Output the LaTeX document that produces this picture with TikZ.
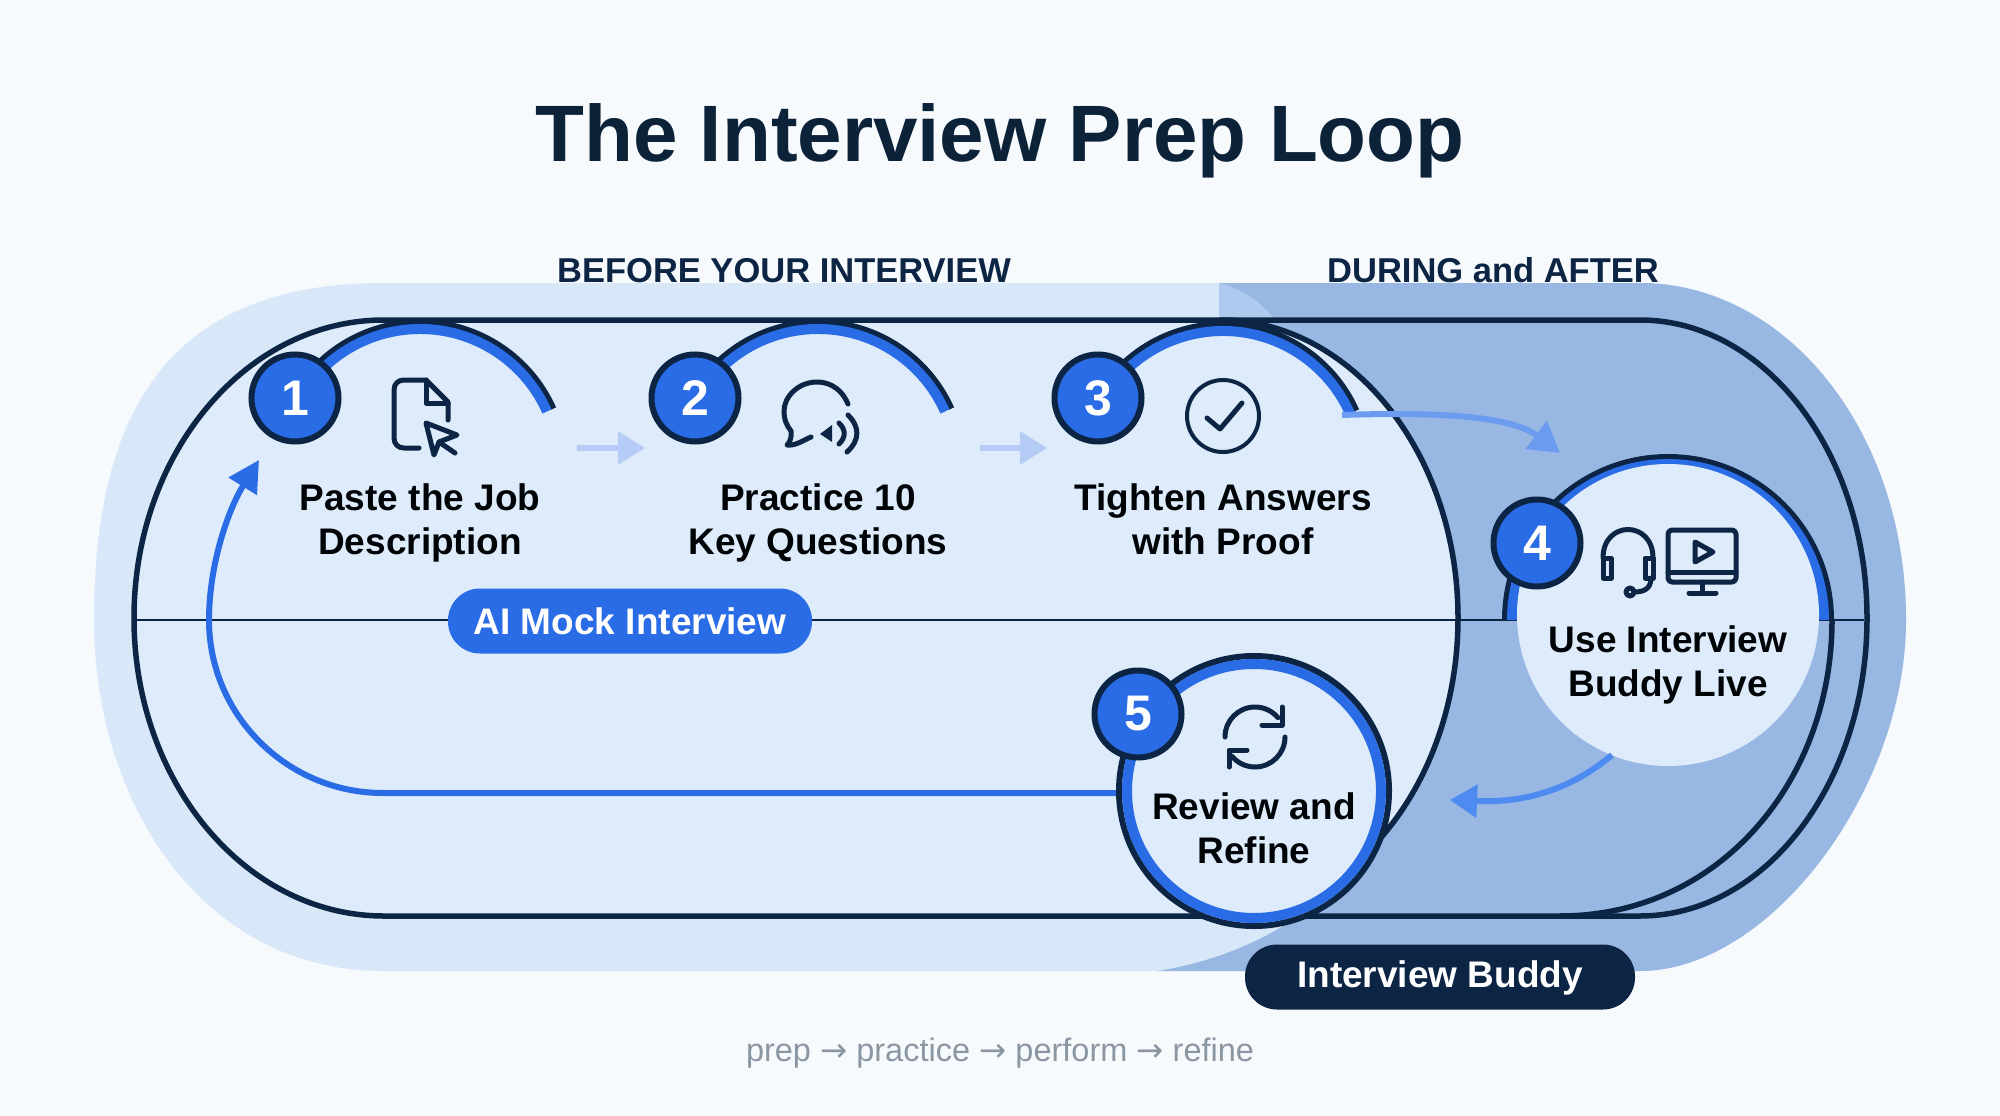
\documentclass[tikz,border=0pt]{standalone}
\usepackage{fontspec}
\setmainfont{Liberation Sans}
\newfontfamily\arrowfont{DejaVu Sans}
\usetikzlibrary{arrows.meta}
\definecolor{ink}{HTML}{0C2544}
\definecolor{titleink}{HTML}{0C2238}
\definecolor{brand}{HTML}{2A6BE6}
\definecolor{paper}{HTML}{F7FAFD}
\definecolor{pale}{HTML}{D9E8F8}
\definecolor{palein}{HTML}{DDEBFA}
\definecolor{deep}{HTML}{98B7E2}
\definecolor{wedge}{HTML}{AFCAEE}
\definecolor{flow}{HTML}{B5CCF6}
\definecolor{flowb}{HTML}{6C9CF0}
\definecolor{flowc}{HTML}{4D8BF0}
\definecolor{footgray}{HTML}{8B96A3}
\tikzset{
  badge/.style={circle,draw=ink,line width=6pt,fill=brand,text=white,minimum size=87pt,inner sep=0pt,
    font=\fontsize{50}{50}\selectfont\bfseries},
  steptext/.style={align=center,inner sep=0pt,text=black!90!ink,font=\fontsize{37}{44}\selectfont\bfseries},
  head/.style={inner sep=0pt,text=ink,font=\fontsize{34.5}{40}\selectfont\bfseries},
  pill/.style={rounded corners=32pt,minimum height=65pt,inner sep=0pt,text=white,font=\fontsize{37}{44}\selectfont\bfseries},
  icon/.style={draw=ink,line width=5pt,line cap=round,line join=round},
  rim/.style={draw=ink,line width=6pt},
  glow/.style={draw=brand,line width=10pt},
  hop/.style={draw=flow,line width=6pt,-{Triangle[length=27pt,width=32pt]}},
  outline/.style={draw=ink,line width=5.5pt},
}
\begin{document}
\begin{tikzpicture}[x=1pt,y=-1pt]
\useasboundingbox (0,0) rectangle (2000,1116);
\fill[paper] (0,0) rectangle (2000,1116);

% outer pale band
\fill[pale] (383,283) -- (1640,283) .. controls (1786,283) and (1906,431) .. (1906,620)
  .. controls (1906,790) and (1770,971) .. (1640,971) -- (383,971)
  .. controls (200,971) and (94,800) .. (94,620) .. controls (94,410) and (170,283) .. (383,283) -- cycle;
% darker right part
\fill[deep] (1219,283) -- (1640,283) .. controls (1786,283) and (1906,431) .. (1906,620)
  .. controls (1906,790) and (1770,971) .. (1640,971) -- (1157,971)
  .. controls (1230,960) and (1300,925) .. (1340,880) -- (1220,620) -- (1219,320) -- cycle;
\fill[wedge] (1219,283) .. controls (1245,290) and (1262,303) .. (1275,320) -- (1219,320) -- cycle;
% inner pale stadium
\fill[palein] (384,320) -- (1220,320) arc[start angle=90,end angle=-90,x radius=238pt,y radius=298pt]
  -- (384,916) arc[start angle=270,end angle=90,x radius=250pt,y radius=298pt] -- cycle;

% mid line
\coordinate (ml) at (133,620);
\coordinate (mr) at (1864,620);
\draw[ink,line width=2pt] (ml) -- (mr);

% outlines
\draw[outline] (384,320) -- (1640,320) arc[start angle=90,end angle=-90,x radius=227pt,y radius=298pt]
  -- (384,916) arc[start angle=270,end angle=90,x radius=250pt,y radius=298pt] -- cycle;
\draw[outline] (1220,320) arc[start angle=90,end angle=-90,x radius=238pt,y radius=298pt];
\draw[outline] (1832,620) .. controls (1832,780) and (1720,916) .. (1560,916);

% return arrow, from step 5 round to step 1
\coordinate (ra) at (383,793);
\coordinate (rb) at (209,620);
\coordinate (rc) at (259,460);
\draw[brand,line width=6pt,-{Triangle[length=31pt,width=32pt]}] (1130,793) -- (ra)
  .. controls (287,793) and (209,715) .. (rb) .. controls (209,565) and (228,510) .. (rc);

% open arcs of steps 1 to 3
\foreach \cx/\cy in {420/468,818/468,1223/470}{
  \draw[rim] (\cx,\cy) ++(150:146pt) arc[start angle=150,end angle=24,radius=146pt];
  \draw[glow] (\cx,\cy) ++(150:139pt) arc[start angle=150,end angle=24,radius=139pt];
}

% step 4 disc
\draw[rim] (1668,620) ++(180:163pt) arc[start angle=180,end angle=0,radius=163pt];
\draw[glow] (1668,620) ++(180:156pt) arc[start angle=180,end angle=0,radius=156pt];
\node[circle,fill=palein,minimum size=302pt,inner sep=0pt] (d4) at (1668,615) {};

% step 5 disc
\node[circle,fill=palein,draw=ink,line width=6pt,minimum size=270pt,inner sep=0pt] (d5) at (1254,791) {};
\draw[glow] (1254,791) circle[radius=127pt];

% arrows between steps
\coordinate (h1a) at (577,448);
\coordinate (h1b) at (645,448);
\coordinate (h2a) at (980,448);
\coordinate (h2b) at (1047,448);
\draw[hop] (h1a) -- (h1b);
\draw[hop] (h2a) -- (h2b);
\coordinate (c3a) at (1342,415);
\coordinate (c3b) at (1560,453);
\draw[flowb,line width=6pt,-{Triangle[length=30pt,width=34pt]}] (c3a) .. controls (1430,412) and (1510,415) .. (c3b);
\coordinate (c4a) at (1612,755);
\coordinate (c4b) at (1450,800);
\draw[flowc,line width=6pt,-{Triangle[length=27pt,width=32pt]}] (c4a) .. controls (1570,790) and (1525,803) .. (c4b);

% badges
\node[badge] (b1) at (295,398) {1};
\node[badge] (b2) at (695,398) {2};
\node[badge] (b3) at (1098,398) {3};
\node[badge] (b4) at (1537,543) {4};
\node[badge] (b5) at (1138,714) {5};

% step texts
\node[steptext] (t1) at (420,523) {Paste the Job\\Description};
\node[steptext] (t2) at (818,523) {Practice 10\\Key Questions};
\node[steptext] (t3) at (1223,519) {Tighten Answers\\with Proof};
\node[steptext] (t4) at (1668,665) {Use Interview\\Buddy Live};
\node[steptext] (t5) at (1254,828) {Review and\\Refine};

% icon 1, page and cursor
\draw[icon] (419,448) -- (404,448) .. controls (398,448) and (394,444) .. (394,438) -- (394,390)
  .. controls (394,384) and (398,380) .. (404,380) -- (426,380) -- (448,402) -- (448,420);
\draw[icon] (426,380) -- (426,403) -- (448,403);
\draw[icon] (426,423) -- (457,435) -- (439,442) -- (434,455) -- cycle;
\draw[icon] (439,442) -- (455,453);

% icon 2, speech bubble and speaker
\draw[icon] (848,404) .. controls (840,385) and (825,382) .. (817,382)
  .. controls (798,382) and (784,397) .. (784,411) .. controls (784,420) and (787,426) .. (791,431)
  .. controls (792,437) and (790,442) .. (787,445) .. controls (795,446) and (802,441) .. (811,437);
\fill[ink] (820,434) -- (832,425) -- (832,442) -- cycle;
\draw[icon] (839,423) .. controls (846,430) and (846,437) .. (839,444);
\draw[icon] (848,415) .. controls (860,427) and (860,440) .. (847,452);

% icon 3, check in circle
\draw[icon,line width=4pt] (1223,416) circle[radius=36pt];
\draw[icon] (1207,418) -- (1220,429) -- (1242,403);

% icon 4, headset and screen
\draw[icon] (1603,558) .. controls (1603,520) and (1653,520) .. (1653,558);
\draw[icon] (1603,558) -- (1611,558) -- (1611,578) -- (1603,578) -- cycle;
\draw[icon] (1645,558) -- (1653,558) -- (1653,578) -- (1645,578) -- cycle;
\draw[icon] (1651,578) .. controls (1651,590) and (1642,592) .. (1634,592);
\draw[icon] (1630,592) circle[radius=4pt];
\draw[icon,rounded corners=4pt] (1668,530) rectangle (1736,582);
\draw[icon] (1668,572) -- (1736,572);
\draw[icon] (1702,582) -- (1702,592);
\draw[icon] (1689,593) -- (1716,593);
\draw[icon] (1695,542) -- (1713,552) -- (1695,562) -- cycle;

% icon 5, refresh
\draw[icon] (1255,737) ++(180:30pt) arc[start angle=180,end angle=40,radius=30pt];
\draw[icon] (1282,707) -- (1282,725) -- (1262,725);
\draw[icon] (1255,737) ++(0:30pt) arc[start angle=0,end angle=-140,radius=30pt];
\draw[icon] (1229,767) -- (1229,750) -- (1247,750);

% pills
\node[pill,fill=brand,minimum width=364pt] (p1) at (630,621) {AI Mock Interview};
\node[pill,fill=ink,minimum width=390pt,text depth=5pt] (p2) at (1440,977) {Interview Buddy};

% titles
\node[inner sep=0pt,text=titleink,font=\fontsize{80}{96}\selectfont\bfseries] (title) at (1000,141) {The Interview Prep Loop};
\node[head] (h1) at (784,271) {BEFORE YOUR INTERVIEW};
\node[head] (h2) at (1493,270) {DURING and AFTER};
\node[inner sep=0pt,text=footgray,font=\fontsize{32.5}{38}\selectfont] (foot) at (1000,1053)
  {prep {\arrowfont →} practice {\arrowfont →} perform {\arrowfont →} refine};
\end{tikzpicture}
\end{document}
